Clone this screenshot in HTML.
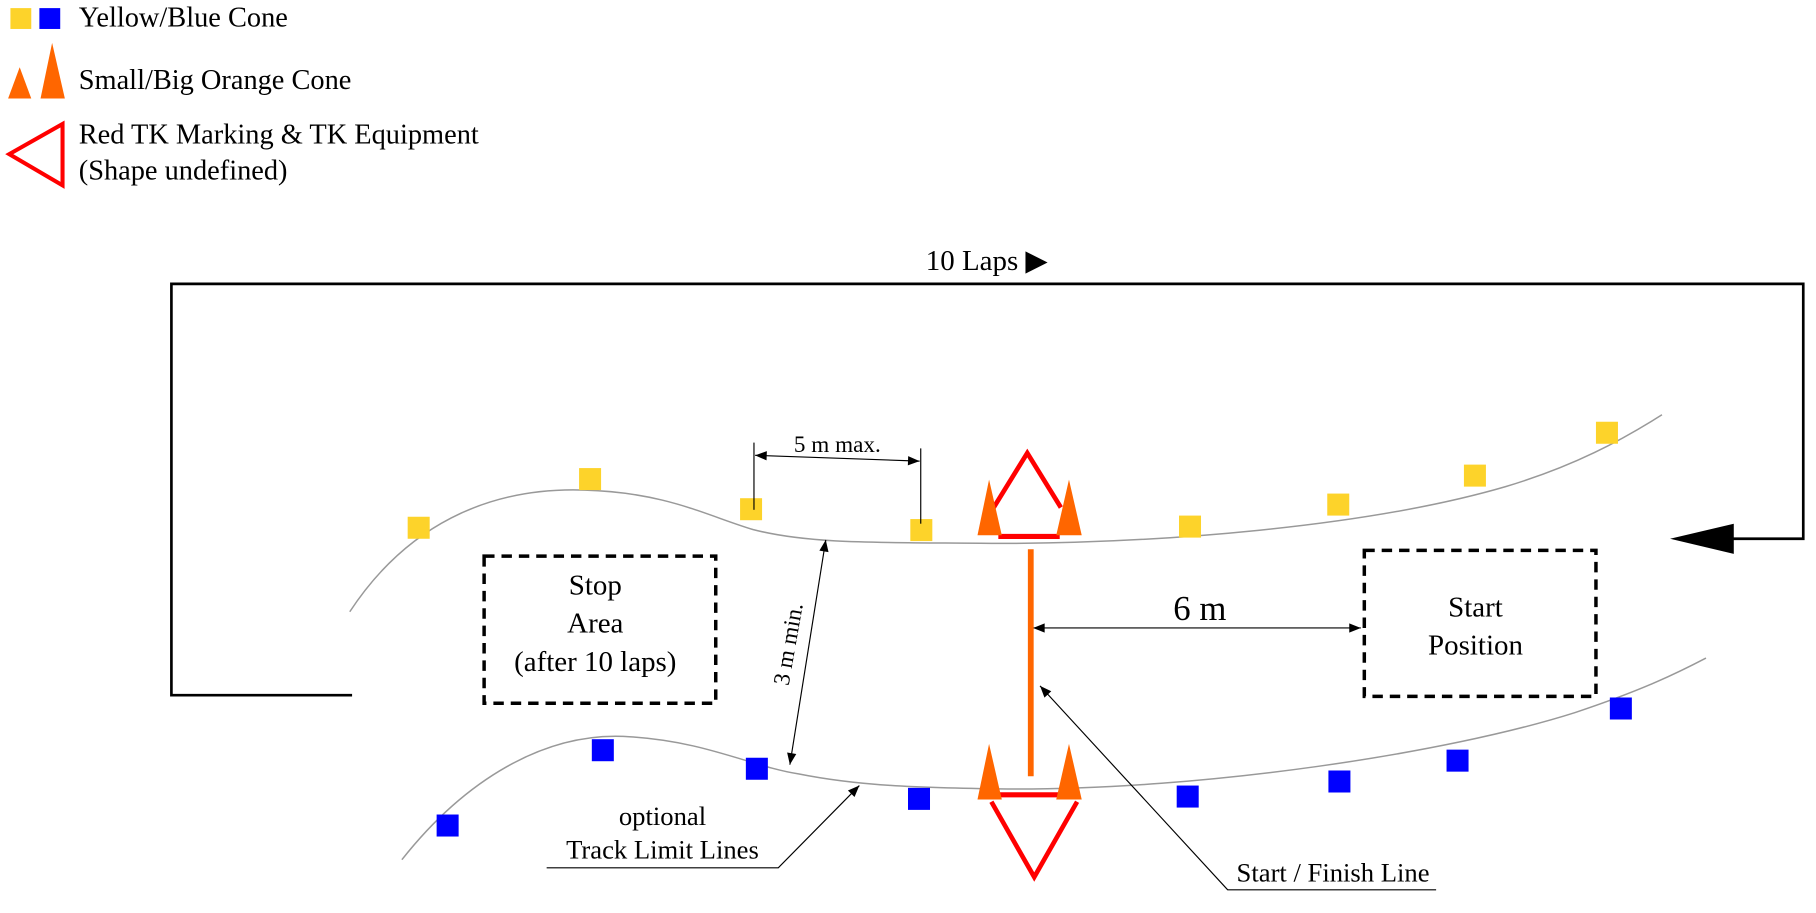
<!DOCTYPE html>
<html><head><meta charset="utf-8"><style>
html,body{margin:0;padding:0;background:#fff;}
svg{display:block;}
text{font-family:"Liberation Serif",serif;fill:#000;}
</style></head><body>
<svg width="1816" height="913" viewBox="0 0 1568 788" preserveAspectRatio="none" xmlns="http://www.w3.org/2000/svg">
<defs>
<marker id="a" viewBox="0 0 10 10" refX="10" refY="5" markerWidth="14" markerHeight="10" markerUnits="userSpaceOnUse" orient="auto-start-reverse"><path d="M0,1 L10,5 L0,9 z" fill="#000"/></marker>
</defs>
<!-- legend -->
<rect x="9" y="7" width="18" height="18" fill="#fdd32a"/>
<rect x="34" y="7" width="18" height="18" fill="#0000ff"/>
<text x="68" y="23" font-size="24.5">Yellow/Blue Cone</text>
<polygon points="7,85 17,58 27,85" fill="#ff6600"/>
<polygon points="35,85 45,37 56,85" fill="#ff6600"/>
<text x="68" y="77" font-size="24.5">Small/Big Orange Cone</text>
<polygon points="54,107 54,160 8,133" fill="none" stroke="#f00" stroke-width="3.5"/>
<text x="68" y="124" font-size="24.5">Red TK Marking &amp; TK Equipment</text>
<text x="68" y="155" font-size="24.5">(Shape undefined)</text>
<!-- loop -->
<polyline points="304,600 148,600 148,245 1557,245 1557,465 1495,465" fill="none" stroke="#000" stroke-width="2.3"/>
<polygon points="1442,465 1497,452 1497,478" fill="#000"/>
<text x="852" y="233" font-size="25" text-anchor="middle">10 Laps ▶</text>
<!-- track lines -->
<path d="M302,528 C350,455 420,420 505,423 C575,425 610,445 650,457 C700,470 760,468 860,469 C1000,469 1180,455 1300,420 C1360,402 1400,380 1435,358" fill="none" stroke="#999" stroke-width="1.3"/>
<path d="M347,742 C400,675 470,630 545,636 C610,640 650,662 690,668 C740,678 790,680 870,681 C1040,682 1250,650 1360,615 C1420,595 1450,580 1473,568" fill="none" stroke="#999" stroke-width="1.3"/>
<g fill="#fdd32a">
<rect x="352" y="446" width="19" height="19"/><rect x="500" y="404" width="19" height="19"/>
<rect x="639" y="430" width="19" height="19"/><rect x="786" y="448" width="19" height="19"/>
<rect x="1018" y="445" width="19" height="19"/><rect x="1146" y="426" width="19" height="19"/>
<rect x="1264" y="401" width="19" height="19"/><rect x="1378" y="364" width="19" height="19"/>
</g>
<g fill="#0000ff">
<rect x="377" y="703" width="19" height="19"/><rect x="511" y="638" width="19" height="19"/>
<rect x="644" y="654" width="19" height="19"/><rect x="784" y="680" width="19" height="19"/>
<rect x="1016" y="678" width="19" height="19"/><rect x="1147" y="665" width="19" height="19"/>
<rect x="1249" y="647" width="19" height="19"/><rect x="1390" y="602" width="19" height="19"/>
</g>
<!-- boxes -->
<rect x="418" y="480" width="200" height="127" fill="none" stroke="#000" stroke-width="3" stroke-dasharray="9,6"/>
<text x="514" y="513" font-size="25" text-anchor="middle">Stop</text>
<text x="514" y="546" font-size="25" text-anchor="middle">Area</text>
<text x="514" y="579" font-size="25" text-anchor="middle">(after 10 laps)</text>
<rect x="1178" y="475" width="200" height="126" fill="none" stroke="#000" stroke-width="3" stroke-dasharray="9,6"/>
<text x="1274" y="532" font-size="25" text-anchor="middle">Start</text>
<text x="1274" y="565" font-size="25" text-anchor="middle">Position</text>
<!-- 5 m max -->
<line x1="651" y1="382" x2="651" y2="440" stroke="#000" stroke-width="1"/>
<line x1="795" y1="387" x2="795" y2="452" stroke="#000" stroke-width="1"/>
<line x1="652" y1="393" x2="794" y2="398" stroke="#000" stroke-width="1" marker-start="url(#a)" marker-end="url(#a)"/>
<text x="723" y="390" font-size="20" text-anchor="middle">5 m max.</text>
<!-- 3 m min -->
<line x1="713" y1="466" x2="682" y2="660" stroke="#000" stroke-width="1" marker-start="url(#a)" marker-end="url(#a)"/>
<text transform="translate(687,557) rotate(-80)" font-size="20" text-anchor="middle">3 m min.</text>
<!-- 6 m -->
<line x1="892" y1="542" x2="1175" y2="542" stroke="#000" stroke-width="1" marker-start="url(#a)" marker-end="url(#a)"/>
<text x="1036" y="535" font-size="30" text-anchor="middle">6 m</text>
<!-- start/finish -->
<line x1="890" y1="474" x2="890" y2="670" stroke="#ff6600" stroke-width="5"/>
<polyline points="858,438 887,391 916,438" fill="none" stroke="#f00" stroke-width="4"/>
<line x1="862" y1="463" x2="915" y2="463" stroke="#f00" stroke-width="4.5"/>
<polygon points="844,462 854,414 865,462" fill="#ff6600"/>
<polygon points="912,462 923,414 934,462" fill="#ff6600"/>
<line x1="862" y1="686" x2="915" y2="686" stroke="#f00" stroke-width="4.5"/>
<polyline points="856,692 893,757 930,692" fill="none" stroke="#f00" stroke-width="4"/>
<polygon points="844,690 854,642 865,690" fill="#ff6600"/>
<polygon points="912,690 923,642 934,690" fill="#ff6600"/>
<!-- annotations -->
<polyline points="1240,768 1060,768 898,592" fill="none" stroke="#000" stroke-width="1" marker-end="url(#a)"/>
<text x="1151" y="761" font-size="23" text-anchor="middle">Start / Finish Line</text>
<polyline points="472,749 672,749 742,678" fill="none" stroke="#000" stroke-width="1" marker-end="url(#a)"/>
<text x="572" y="712" font-size="23" text-anchor="middle">optional</text>
<text x="572" y="741" font-size="23" text-anchor="middle">Track Limit Lines</text>
</svg>
</body></html>
